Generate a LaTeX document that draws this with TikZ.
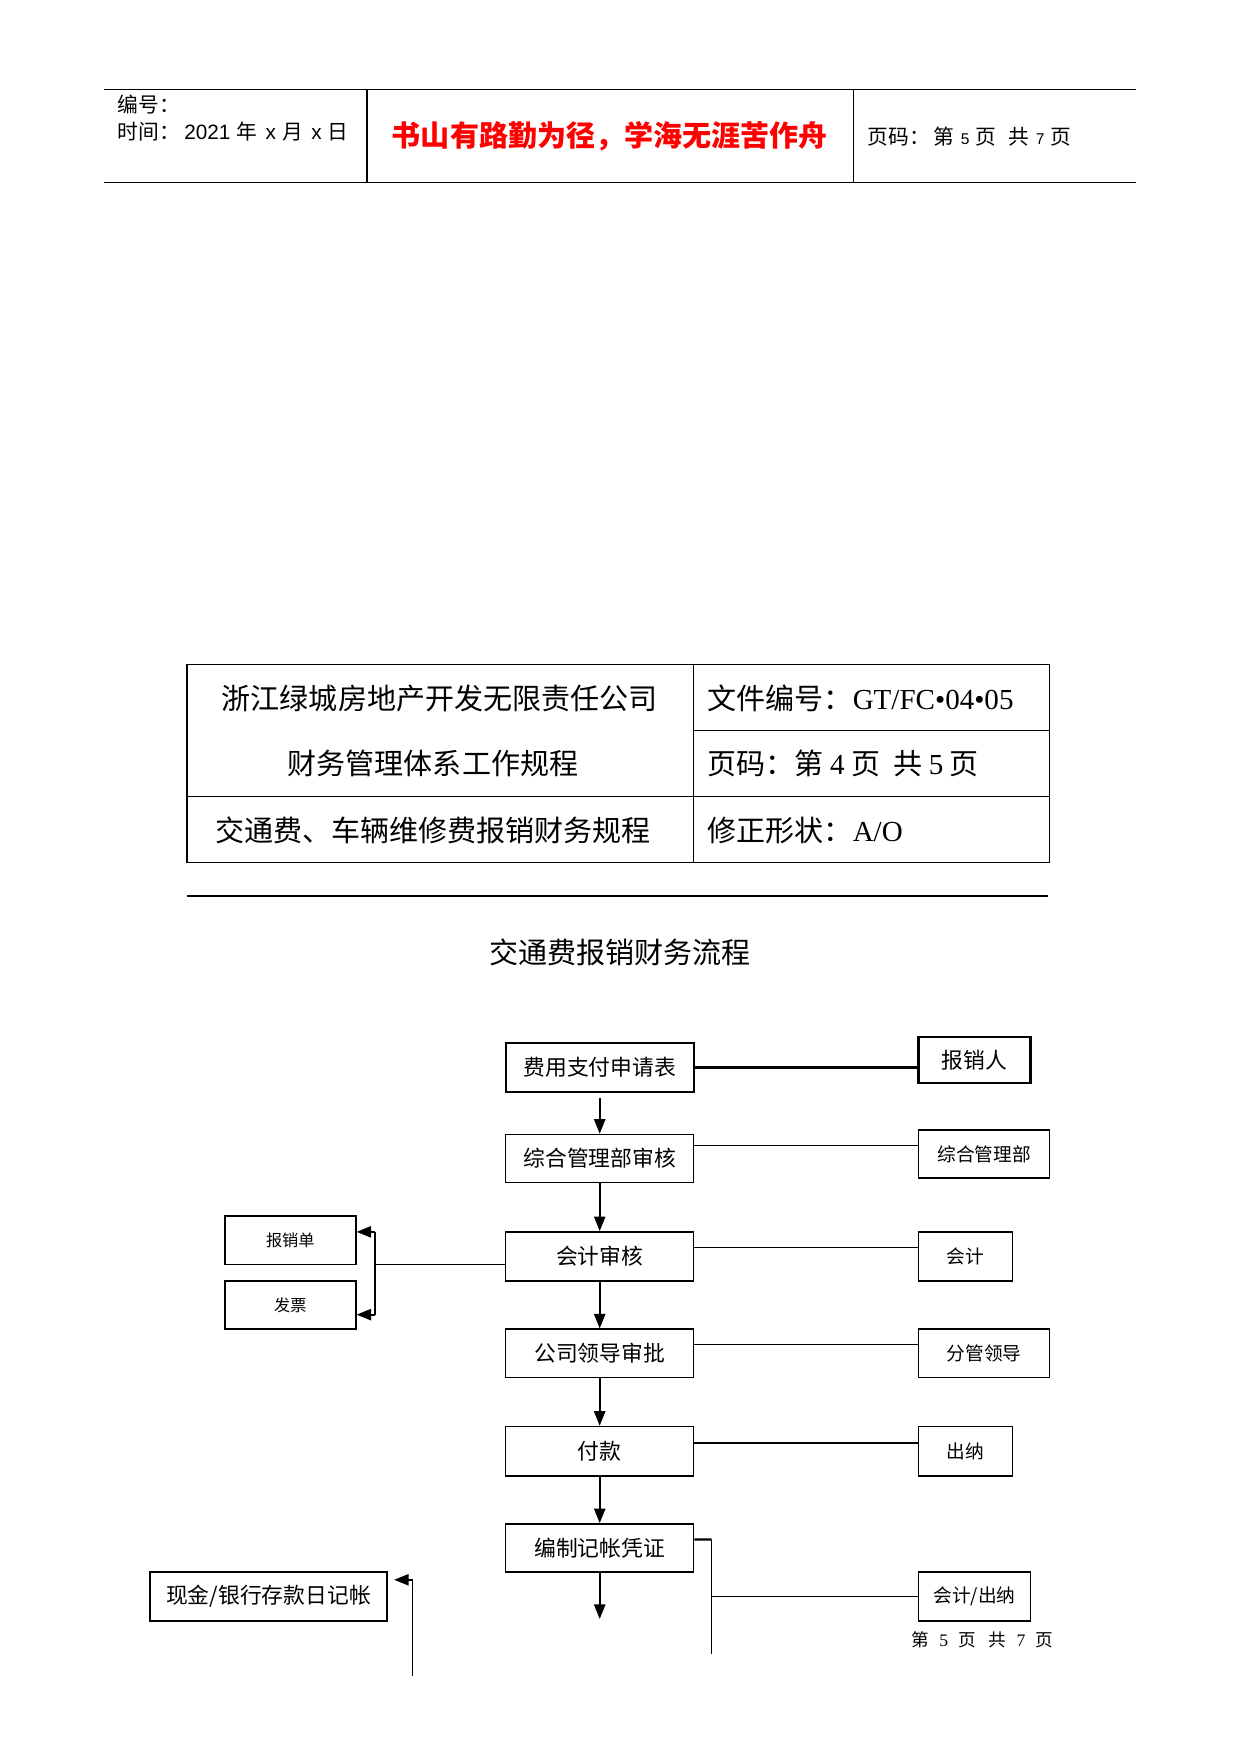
\documentclass[tikz,border=0pt]{standalone}
\usepackage{fontspec}
\setmainfont{Noto Sans CJK SC}
\newfontfamily\latf{Liberation Serif}
\newfontfamily\latsf{Liberation Sans}
\usetikzlibrary{calc,arrows.meta}
\def\pxu{0.018945cm}
\tikzset{
	flowbox/.style={draw, line width=0.75pt, minimum width=168*\pxu, minimum height=44*\pxu, inner sep=0pt, font=\fontsize{10.5}{12}\selectfont},
	rolebox/.style 2 args={draw, line width=0.75pt, minimum width=#1*\pxu, minimum height=#2*\pxu, inner sep=0pt},
	flowarrow/.style={-{Triangle[length=7pt,width=5.4pt]}, line width=0.9pt},
}

\begin{document}
\begin{tikzpicture}[x=\pxu, y=-\pxu]
			%%%%% START %%%%%
			\useasboundingbox (0, 0) rectangle (1108.5, 1567.7);
			
			% page header
			\draw[line width=0.6pt] (93, 80) -- (1015, 80);
			\draw[line width=0.6pt] (93, 163) -- (1015, 163);
			\draw[line width=0.8pt] (328, 80) -- (328, 163);
			\draw[line width=0.6pt] (763, 80) -- (763, 163);
			\node[anchor=west, inner sep=0pt, font=\fontsize{10}{12}\selectfont] (hdrno) at (105, 93) {编号：};
			\node[anchor=west, inner sep=0pt, font=\fontsize{10}{12}\selectfont] (hdrtime) at (105, 118) {时间：\hspace{2pt}{\latsf 2021}\hspace{3pt}年\hspace{4pt}{\latsf x}\hspace{3pt}月\hspace{4pt}{\latsf x}\hspace{3pt}日};
			\node[inner sep=0pt, text=red, font=\fontsize{14}{16}\selectfont\bfseries] (motto) at (545, 122) {书山有路勤为径，学海无涯苦作舟};
			\node[anchor=west, inner sep=0pt, font=\fontsize{10}{12}\selectfont] (hdrpage) at (775, 122) {页码：\hspace{2pt}第\hspace{3pt}{\latsf\fontsize{7.5}{9}\selectfont 5}\hspace{3pt}页\hspace{6pt}共\hspace{3pt}{\latsf\fontsize{7.5}{9}\selectfont 7}\hspace{3pt}页};
			
			% document table
			\draw[line width=0.7pt] (167, 594) rectangle (938, 771);
			\draw[line width=0.7pt] (620, 594) -- (620, 771);
			\draw[line width=0.7pt] (620, 653) -- (938, 653);
			\draw[line width=0.7pt] (167, 712) -- (938, 712);
			\node[inner sep=0pt, font=\fontsize{14}{16}\selectfont] (corp) at (393, 624) {浙江绿城房地产开发无限责任公司};
			\node[inner sep=0pt, font=\fontsize{14}{16}\selectfont] (sysname) at (387, 682) {财务管理体系工作规程};
			\node[inner sep=0pt, font=\fontsize{14}{16}\selectfont] (procname) at (387, 742) {交通费、车辆维修费报销财务规程};
			\node[anchor=west, inner sep=0pt, font=\fontsize{14}{16}\selectfont] (docno) at (632, 624) {文件编号：{\latf GT/FC•04•05}};
			\node[anchor=west, inner sep=0pt, font=\fontsize{14}{16}\selectfont] (pageno) at (632, 682) {页码：第 {\latf 4} 页 \ 共 {\latf 5} 页};
			\node[anchor=west, inner sep=0pt, font=\fontsize{14}{16}\selectfont] (revno) at (632, 742) {修正形状：{\latf A/O}};
			\draw[line width=1.2pt] (167, 801) -- (937, 801);
			
			\node[inner sep=0pt, font=\fontsize{14}{16}\selectfont] (title) at (554, 851) {交通费报销财务流程};
			
			% flow column
			\node[flowbox, line width=1.1pt] (apply) at (536, 954) {费用支付申请表};
			\node[flowbox, minimum height=43*\pxu] (audit) at (536, 1035.5) {综合管理部审核};
			\node[flowbox] (acct) at (536, 1123) {会计审核};
			\node[flowbox, minimum height=43*\pxu] (approve) at (536, 1209.5) {公司领导审批};
			\node[flowbox] (pay) at (536, 1297) {付款};
			\node[flowbox, minimum height=43*\pxu] (voucher) at (536, 1383.5) {编制记帐凭证};
			
			% roles on the right
			\node[rolebox={100}{41}, line width=1.1pt, font=\fontsize{10.5}{12}\selectfont] (claimant) at (871, 947.5) {报销人};
			\node[rolebox={117}{43}, font=\fontsize{9}{11}\selectfont] (admin) at (879.5, 1031.5) {综合管理部};
			\node[rolebox={84}{44}, font=\fontsize{9}{11}\selectfont] (accountant) at (863, 1123) {会计};
			\node[rolebox={117}{43}, font=\fontsize{9}{11}\selectfont] (leader) at (879.5, 1209.5) {分管领导};
			\node[rolebox={84}{44}, font=\fontsize{9}{11}\selectfont] (cashier) at (863, 1297) {出纳};
			\node[rolebox={100}{44}, font=\fontsize{9}{11}\selectfont] (acctcash) at (871, 1427) {会计/出纳};
			
			% documents on the left
			\node[rolebox={117}{43}, font=\fontsize{7.8}{9}\selectfont] (claimform) at (259.5, 1108.5) {报销单};
			\node[rolebox={117}{43}, font=\fontsize{7.8}{9}\selectfont] (invoice) at (259.5, 1166.5) {发票};
			\node[rolebox={212}{44}, font=\fontsize{10.5}{12}\selectfont] (journal) at (240, 1427) {现金/银行存款日记帐};
			
			\node[inner sep=0pt, font=\fontsize{8.5}{10}\selectfont] (footer) at (878, 1466) {第\hspace{5pt}{\latf 5}\hspace{5pt}页\hspace{6pt}共\hspace{5pt}{\latf 7}\hspace{5pt}页};
			
			% down arrows
			\coordinate (start) at (536, 981);
			\coordinate (flowend) at (536, 1447);
			\draw[flowarrow] (start) -- (audit.north);
			\draw[flowarrow] (audit.south) -- (acct.north);
			\draw[flowarrow] (acct.south) -- (approve.north);
			\draw[flowarrow] (approve.south) -- (pay.north);
			\draw[flowarrow] (pay.south) -- (voucher.north);
			\draw[flowarrow] (voucher.south) -- (flowend);
			
			% role lines
			\draw[line width=1.1pt] (apply.east) -- (apply.east -| claimant.west);
			\coordinate (a2) at ($(audit.north east)!0.23!(audit.south east)$);
			\draw[line width=0.5pt] (a2) -- (a2 -| admin.west);
			\coordinate (a3) at ($(acct.north east)!0.32!(acct.south east)$);
			\draw[line width=0.5pt] (a3) -- (a3 -| accountant.west);
			\coordinate (a4) at ($(approve.north east)!0.32!(approve.south east)$);
			\draw[line width=0.5pt] (a4) -- (a4 -| leader.west);
			\coordinate (a5) at ($(pay.north east)!0.34!(pay.south east)$);
			\draw[line width=1.1pt] (a5) -- (a5 -| cashier.west);
			
			\coordinate (a6) at ($(voucher.north east)!0.33!(voucher.south east)$);
			\coordinate (vbend) at (636, 1376);
			\coordinate (vend) at (636, 1478);
			\draw[line width=1.1pt] (a6) -- (vbend);
			\draw[line width=0.5pt] (vbend) -- (vend);
			\draw[line width=0.5pt] (vbend |- acctcash.west) -- (acctcash.west);
			
			% left fork
			\coordinate (a3l) at ($(acct.north west)!0.66!(acct.south west)$);
			\coordinate (forktop) at (335, 1101);
			\coordinate (forkbot) at (335, 1175);
			\draw[line width=0.5pt] (a3l) -- (a3l -| forktop);
			\draw[line width=1.1pt] (forktop) -- (forkbot);
			\draw[flowarrow] (forktop) -- (forktop -| claimform.east);
			\draw[flowarrow] (forkbot) -- (forkbot -| invoice.east);
			
			% journal arrow
			\coordinate (jend) at (369, 1498);
			\coordinate (jbend) at (369, 1412);
			\draw[line width=0.5pt] (jend) -- (jbend);
			\draw[flowarrow, shorten >=3pt] (jbend) -- (jbend -| journal.east);
			
			%%%%% END %%%%%
\end{tikzpicture}
\end{document}
